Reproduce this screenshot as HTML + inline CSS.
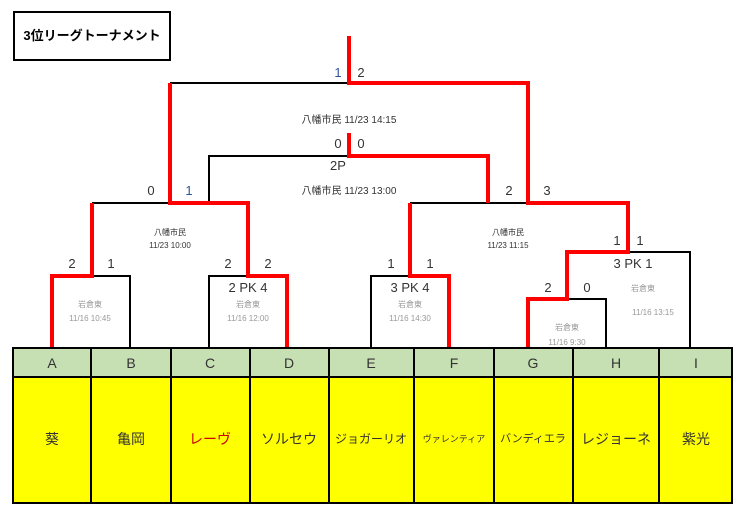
<!DOCTYPE html>
<html><head><meta charset="utf-8"><style>
html,body{margin:0;padding:0;background:#fff;}
svg{display:block;}
text{font-family:"Liberation Sans","Noto Sans CJK JP",sans-serif;}
</style></head><body>
<svg width="750" height="519" viewBox="0 0 750 519" xmlns="http://www.w3.org/2000/svg">
<rect x="14" y="12" width="156" height="48" fill="#fff" stroke="#000" stroke-width="2"/>
<text x="92" y="40" font-size="13" font-weight="bold" text-anchor="middle">3位リーグトーナメント</text>

<g fill="none" stroke="#000" stroke-width="2">
<polyline points="170,83 349,83"/>
<polyline points="209,203 209,156 349,156"/>
<polyline points="92,203 170,203"/>
<polyline points="410,203 528,203"/>
<polyline points="92,276 130,276 130,348"/>
<polyline points="209,348 209,276 248,276"/>
<polyline points="371,348 371,276 410,276"/>
<polyline points="628,252 690,252 690,348"/>
<polyline points="567,299 606,299 606,348"/>
</g>
<g fill="none" stroke="#f00" stroke-width="4">
<polyline points="349,36 349,83 528,83 528,203 628,203 628,252 567,252 567,299 528,299 528,348"/>
<polyline points="170,83 170,203 248,203 248,276 287,276 287,348"/>
<polyline points="349,133 349,156 488,156 488,203"/>
<polyline points="92,203 92,276 52,276 52,348"/>
<polyline points="410,203 410,276 449,276 449,348"/>
</g>

<g font-size="13" fill="#333" text-anchor="middle">
<text x="338" y="77" fill="#2f5597">1</text><text x="361" y="77">2</text>
<text x="338" y="148">0</text><text x="361" y="148">0</text>
<text x="338" y="170">2P</text>
<text x="151" y="195">0</text><text x="189" y="195" fill="#2f5597">1</text>
<text x="509" y="195">2</text><text x="547" y="195">3</text>
<text x="72" y="268">2</text><text x="111" y="268">1</text>
<text x="228" y="268">2</text><text x="268" y="268">2</text>
<text x="391" y="268">1</text><text x="430" y="268">1</text>
<text x="617" y="245">1</text><text x="640" y="245">1</text>
<text x="548" y="292">2</text><text x="587" y="292">0</text>
<text x="248" y="292">2 PK 4</text>
<text x="410" y="292">3 PK 4</text>
<text x="633" y="268">3 PK 1</text>
</g>
<g font-size="10" fill="#333" text-anchor="middle">
<text x="349" y="123">八幡市民 11/23 14:15</text>
<text x="349" y="194">八幡市民 11/23 13:00</text>
</g>
<g font-size="8" fill="#333" text-anchor="middle">
<text x="170" y="235">八幡市民</text><text x="170" y="248">11/23 10:00</text>
<text x="508" y="235">八幡市民</text><text x="508" y="248">11/23 11:15</text>
</g>
<g font-size="8" fill="#999" text-anchor="middle">
<text x="90" y="307">岩倉東</text><text x="90" y="321">11/16 10:45</text>
<text x="248" y="307">岩倉東</text><text x="248" y="321">11/16 12:00</text>
<text x="410" y="307">岩倉東</text><text x="410" y="321">11/16 14:30</text>
<text x="643" y="291">岩倉東</text><text x="653" y="315">11/16 13:15</text>
<text x="567" y="330">岩倉東</text><text x="567" y="345">11/16 9:30</text>
</g>

<rect x="13" y="348" width="719" height="29" fill="#c6e0b4"/>
<rect x="13" y="377" width="719" height="126" fill="#ffff00"/>
<g stroke="#000" stroke-width="2" fill="none">
<rect x="13" y="348" width="719" height="155"/>
<line x1="13" y1="377" x2="732" y2="377"/>
<line x1="91" y1="348" x2="91" y2="503"/>
<line x1="171" y1="348" x2="171" y2="503"/>
<line x1="250" y1="348" x2="250" y2="503"/>
<line x1="329" y1="348" x2="329" y2="503"/>
<line x1="414" y1="348" x2="414" y2="503"/>
<line x1="494" y1="348" x2="494" y2="503"/>
<line x1="573" y1="348" x2="573" y2="503"/>
<line x1="659" y1="348" x2="659" y2="503"/>
</g>
<g font-size="14" fill="#333" text-anchor="middle">
<text x="52" y="368">A</text><text x="131" y="368">B</text><text x="210" y="368">C</text>
<text x="289" y="368">D</text><text x="371" y="368">E</text><text x="454" y="368">F</text>
<text x="533" y="368">G</text><text x="616" y="368">H</text><text x="696" y="368">I</text>
</g>
<g font-size="14" fill="#333" text-anchor="middle">
<text x="52" y="444">葵</text><text x="131" y="444">亀岡</text>
<text x="210" y="444" fill="#c00">レーヴ</text>
<text x="289" y="444">ソルセウ</text>
<text x="371" y="443" font-size="12">ジョガーリオ</text>
<text x="454" y="442" font-size="9">ヴァレンティア</text>
<text x="533" y="442" font-size="11">バンディエラ</text>
<text x="616" y="444">レジョーネ</text>
<text x="696" y="444">紫光</text>
</g>
</svg>
</body></html>
